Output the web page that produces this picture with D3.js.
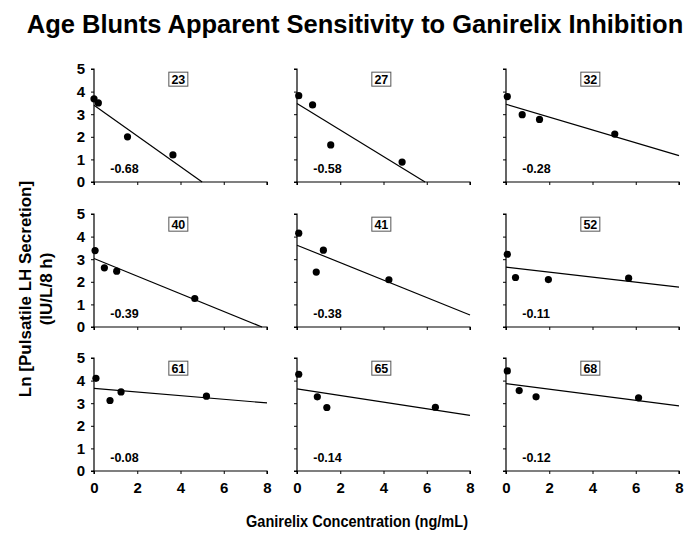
<!DOCTYPE html>
<html><head><meta charset="utf-8">
<script src="https://cdn.jsdelivr.net/npm/d3@7"></script>
<style>body{margin:0;background:#fff}svg{font-family:"Liberation Sans",Arial,sans-serif}</style>
</head><body>
<svg id="c" width="700" height="539"></svg>
<script>
const ages = ["23","27","32","40","41","52","61","65","68"];
const slopeLabels = ["-0.68","-0.58","-0.28","-0.39","-0.38","-0.11","-0.08","-0.14","-0.12"];
const intercepts = [3.40, 3.47, 3.44, 3.03, 3.62, 2.65, 3.66, 3.63, 3.87];
const slopes = [-0.68, -0.586, -0.284, -0.39, -0.386, -0.111, -0.081, -0.146, -0.124];
const conc = [
  [0, 0.2, 1.55, 3.65],
  [0.08, 0.72, 1.56, 4.86],
  [0.06, 0.75, 1.55, 5.03],
  [0.05, 0.48, 1.05, 4.66],
  [0.08, 0.89, 1.22, 4.25],
  [0.06, 0.44, 1.96, 5.67],
  [0.09, 0.74, 1.25, 5.2],
  [0.08, 0.94, 1.38, 6.4],
  [0.06, 0.61, 1.39, 6.13]
];
const lnLH = [
  [3.68, 3.5, 2.0, 1.2],
  [3.82, 3.41, 1.64, 0.88],
  [3.78, 2.98, 2.77, 2.12],
  [3.38, 2.62, 2.47, 1.26],
  [4.15, 2.43, 3.40, 2.09],
  [3.22, 2.19, 2.10, 2.16],
  [4.10, 3.12, 3.50, 3.31],
  [4.28, 3.28, 2.81, 2.82],
  [4.43, 3.56, 3.28, 3.24]
];
const xTicks = [0, 2, 4, 6, 8];
const yTicks = [0, 1, 2, 3, 4, 5];

const svg = d3.select("#c");
const colX = [94, 297, 506];
const rowY = [69, 214, 358];
const W = 173, H = 113;

svg.append("text").attr("x", 355).attr("y", 33).attr("text-anchor", "middle")
  .attr("font-size", 25.5).attr("font-weight", "bold").text("Age Blunts Apparent Sensitivity to Ganirelix Inhibition");

ages.forEach((age, i) => {
  const c = i % 3, r = Math.floor(i / 3);
  const g = svg.append("g").attr("transform", `translate(${colX[c]},${rowY[r]})`);
  const x = d3.scaleLinear().domain([0, 8]).range([0, W]);
  const y = d3.scaleLinear().domain([0, 5]).range([H, 0]);
  const ya = d3.axisLeft(y).tickValues(yTicks).tickSize(3).tickPadding(6)
    .tickFormat(c === 0 ? d3.format("d") : () => "");
  const xa = d3.axisBottom(x).tickValues(xTicks).tickSize(3).tickPadding(8)
    .tickFormat(r === 2 ? d3.format("d") : () => "");
  const gy = g.append("g").call(ya);
  const gx = g.append("g").attr("transform", `translate(0,${H})`).call(xa);
  [gx, gy].forEach(a => {
    a.attr("font-size", 15).attr("font-family", "Liberation Sans, Arial, sans-serif");
    a.select(".domain").attr("stroke", "#000").attr("stroke-width", 1.2);
    a.selectAll(".tick line").attr("stroke", "#000");
    a.selectAll("text").attr("font-size", 15).attr("font-weight", "bold").attr("fill", "#000");
  });
  gx.select(".domain").attr("d", `M0,3V0H${W}V3`);
  gy.select(".domain").attr("d", `M-3,0H0V${H}H-3`);

  const b = intercepts[i], m = slopes[i];
  let xEnd = 8;
  if (b + m * 8 < 0) xEnd = -b / m;
  g.append("line").attr("x1", x(0)).attr("y1", y(b)).attr("x2", x(xEnd)).attr("y2", y(b + m * xEnd))
    .attr("stroke", "#000").attr("stroke-width", 1.2);

  g.selectAll("circle").data(conc[i].map((v, k) => [v, lnLH[i][k]])).enter().append("circle")
    .attr("cx", d => x(d[0])).attr("cy", d => y(d[1])).attr("r", 3.6).attr("fill", "#000");

  const bx = x(3.9), by = y(4.55);
  g.append("rect").attr("x", bx - 9.5).attr("y", by - 7).attr("width", 19).attr("height", 14)
    .attr("fill", "#fff").attr("stroke", "#555").attr("stroke-width", 1);
  g.append("text").attr("x", bx).attr("y", by + 4.5).attr("text-anchor", "middle")
    .attr("font-size", 12.5).attr("font-weight", "bold").text(age);

  g.append("text").attr("x", x(0.75)).attr("y", y(0.6) + 4.5)
    .attr("font-size", 12.5).attr("font-weight", "bold").text(slopeLabels[i]);
});

svg.append("text").attr("x", 357).attr("y", 527).attr("text-anchor", "middle")
  .attr("font-size", 16).attr("font-weight", "bold")
  .attr("textLength", 222).attr("lengthAdjust", "spacingAndGlyphs")
  .text("Ganirelix Concentration (ng/mL)");

const yt = svg.append("text").attr("transform", "translate(0,289) rotate(-90)")
  .attr("text-anchor", "middle").attr("font-size", 17).attr("font-weight", "bold");
yt.append("tspan").attr("x", 0).attr("y", 31).text("Ln [Pulsatile LH Secretion]");
yt.append("tspan").attr("x", 0).attr("y", 52).text("(IU/L/8 h)");
</script>
</body></html>
